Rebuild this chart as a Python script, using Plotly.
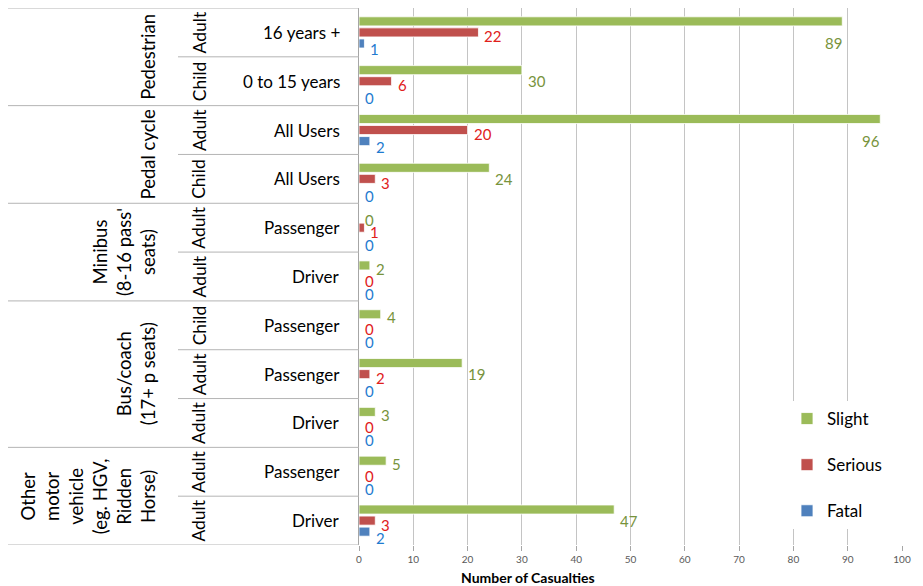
import plotly.graph_objects as go

# ---------------- data ----------------
level1 = ["Pedestrian", "Pedal cycle", "Minibus<br>(8-16 pass'<br>seats)",
          "Bus/coach<br>(17+ p seats)",
          "Other<br>motor<br>vehicle<br>(eg. HGV,<br>Ridden<br>Horse)"]
level1_span = [2, 2, 2, 3, 2]
level2 = ["Adult", "Child", "Adult", "Child", "Adult", "Adult",
          "Child", "Adult", "Adult", "Adult", "Adult"]
level3 = ["16 years +", "0 to 15 years", "All Users", "All Users",
          "Passenger", "Driver", "Passenger", "Passenger", "Driver",
          "Passenger", "Driver"]
slight = [89, 30, 96, 24, 0, 2, 4, 19, 3, 5, 47]
serious = [22, 6, 20, 3, 1, 0, 0, 2, 0, 0, 3]
fatal = [1, 0, 2, 0, 0, 0, 0, 0, 0, 0, 2]
series_names = ["Slight", "Serious", "Fatal"]
x_ticks = [0, 10, 20, 30, 40, 50, 60, 70, 80, 90, 100]

# ---------------- style ----------------
FONT = "Lato"
bar_colors = ["#9BBB59", "#C0504D", "#4F81BD"]
label_colors = ["#77933C", "#E0201B", "#1F7BCF"]
OFF = 8  # page body margin of the browser
W_, H_ = 923 - OFF, 586 - OFF
L, R, T, B = 359 - OFF, 902 - OFF, 0, 545 - OFF
PW = R - L
PH = B - T


def px(xp):
    """reference pixel x -> paper x"""
    return (xp - OFF - L) / PW


def py(yp):
    """reference pixel y -> paper y"""
    return 1 - (yp - OFF - T) / PH


rows = list(range(len(level3)))
fig = go.Figure()
for name, vals, col in zip(series_names, [slight, serious, fatal], bar_colors):
    fig.add_trace(go.Bar(
        y=rows, x=vals, orientation="h", name=name, legendgroup=name,
        marker=dict(color=col, line=dict(color="white", width=0.8)),
        hoverinfo="x+name",
    ))

annotations = []
# bar value labels
for si, vals in enumerate([slight, serious, fatal]):
    for r, v in zip(rows, vals):
        if v > 80:
            xa, xs, ys = "right", 2, -11
        else:
            xa, xs = "left", 4
            if si == 0:
                ys = 8 if v < 10 else 0
            elif si == 1:
                ys = -4
            else:
                ys = -17
        annotations.append(dict(
            x=v, y=r, xref="x", yref="y", text=str(v), showarrow=False,
            xanchor=xa, yanchor="middle", xshift=xs, yshift=ys,
            font=dict(family=FONT, size=15, color=label_colors[si])))

# level 3 labels
for r, t in zip(rows, level3):
    annotations.append(dict(
        x=px(342), y=r, xref="paper", yref="y", text=t, showarrow=False,
        xanchor="right", yanchor="middle",
        font=dict(family=FONT, size=17, color="black")))
# level 2 labels
for r, t in zip(rows, level2):
    annotations.append(dict(
        x=px(199), y=r, xref="paper", yref="y", text=t, showarrow=False,
        textangle=-90, xanchor="center", yanchor="middle",
        font=dict(family=FONT, size=17.5, color="black")))
# level 1 labels
shapes = []
start = 0
for t, span in zip(level1, level1_span):
    mid = start + (span - 1) / 2
    annotations.append(dict(
        x=px(161), y=mid, xref="paper", yref="y", text=t, showarrow=False,
        textangle=-90, xanchor="right", yanchor="middle", align="center",
        font=dict(family=FONT, size=18.5, color="black")))
    start += span

# separator lines
group_bounds = [-0.5]
acc = -0.5
for span in level1_span:
    acc += span
    group_bounds.append(acc)
for b in [r + 0.5 for r in rows[:-1]] + [-0.5, 10.5]:
    x0 = px(5) if any(abs(b - g) < 1e-9 for g in group_bounds) else px(178)
    shapes.append(dict(type="line", xref="paper", yref="y", x0=x0, x1=0,
                       y0=b, y1=b, line=dict(color="#B4B4B4", width=1)))

# x-axis title
annotations.append(dict(
    x=px(528), y=py(577), xref="paper", yref="paper",
    text="<b>Number of Casualties</b>", showarrow=False,
    xanchor="center", yanchor="middle",
    font=dict(family=FONT, size=14, color="black")))

fig.update_layout(
    width=W_, height=H_,
    margin=dict(l=L, r=W_ - R, t=T, b=H_ - B, pad=0),
    paper_bgcolor="white", plot_bgcolor="white",
    barmode="group", bargap=0.32, bargroupgap=0.18,
    font=dict(family=FONT),
    xaxis=dict(range=[0, 100], tickvals=x_ticks, showgrid=True,
               gridcolor="#C4C4C4", gridwidth=1, zeroline=False,
               showline=False, ticks="outside", ticklen=5,
               tickcolor="#A6A6A6",
               tickfont=dict(family=FONT, size=10, color="#595959")),
    yaxis=dict(range=[10.5, -0.5], showticklabels=False, showgrid=False,
               zeroline=False, showline=True, linecolor="#A6A6A6",
               linewidth=1, ticks=""),
    legend=dict(x=px(787), y=py(401), xanchor="left",
                yanchor="top", bgcolor="white", borderwidth=0,
                traceorder="grouped", tracegroupgap=21,
                font=dict(family=FONT, size=17, color="black")),
    annotations=annotations,
    shapes=shapes,
)

fig.write_html("out.html")
